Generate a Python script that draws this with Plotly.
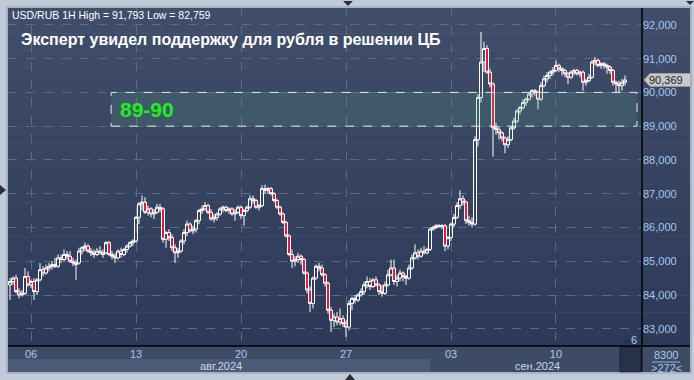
import plotly.graph_objects as go

# ---------------- data (hourly candles, index-based) ----------------
opens = [84.30,84.40,84.50,84.10,84.00,84.05,84.55,84.30,84.40,84.10,
         84.45,84.75,84.65,84.80,84.85,84.90,84.85,85.10,85.05,85.20,
         85.15,85.00,84.90,84.95,85.30,85.40,85.45,85.30,85.25,85.20,
         85.30,85.25,85.25,85.55,85.20,85.15,85.10,85.30,85.20,85.35,
         85.45,85.55,85.60,86.30,86.70,86.75,86.45,86.55,86.40,86.45,
         86.60,86.55,85.65,85.85,85.70,85.40,85.25,85.30,85.60,85.85,
         86.10,85.90,85.95,86.20,86.50,86.55,86.65,86.45,86.25,86.30,
         86.40,86.55,86.60,86.50,86.55,86.40,86.45,86.60,86.35,86.50,
         86.60,86.85,86.80,86.60,86.65,87.15,87.10,87.15,87.00,86.80,
         86.60,86.40,86.15,85.75,85.20,85.00,85.05,85.15,85.05,84.65,
         84.15,83.75,84.50,84.85,84.80,84.60,84.35,83.55,83.25,83.35,
         83.20,83.30,83.15,83.05,83.75,83.90,83.85,84.00,84.10,84.30,
         84.40,84.25,84.45,84.30,84.10,84.05,84.30,84.60,84.80,84.40,
         84.50,84.65,84.55,84.50,84.80,85.10,85.25,85.15,85.30,85.25,
         85.35,85.95,86.00,86.02,86.05,86.05,85.45,85.70,86.10,86.30,
         86.65,86.85,86.75,86.20,86.15,86.10,88.60,89.85,90.90,91.30,
         90.60,90.25,88.95,88.90,88.80,88.65,88.45,88.60,88.95,89.15,
         89.45,89.55,89.70,89.80,89.95,90.05,90.00,89.80,90.20,90.40,
         90.50,90.60,90.65,90.80,90.70,90.65,90.55,90.45,90.60,90.65,
         90.55,90.60,90.30,90.35,90.45,90.90,90.95,90.80,90.85,90.80,
         90.75,90.65,90.30,90.25,90.20,90.30]
highs = [84.50,84.55,84.60,84.20,84.15,84.80,84.70,84.45,84.50,84.50,
         84.95,84.85,84.90,84.95,85.00,85.10,85.20,85.20,85.35,85.30,
         85.30,85.10,85.05,85.40,85.45,85.55,85.50,85.40,85.35,85.40,
         85.45,85.35,85.60,85.60,85.30,85.25,85.35,85.40,85.40,85.50,
         85.60,85.65,86.35,86.75,86.95,86.90,86.65,86.60,86.55,86.70,
         86.70,86.60,85.90,85.95,85.80,85.50,85.40,85.65,85.95,86.20,
         86.15,86.05,86.25,86.55,86.65,86.75,86.70,86.55,86.40,86.45,
         86.60,86.65,86.65,86.60,86.60,86.55,86.65,86.65,86.55,86.65,
         86.95,86.95,86.85,86.70,87.25,87.27,87.20,87.20,87.05,86.85,
         86.65,86.45,86.20,85.80,85.35,85.15,85.25,85.20,85.10,84.70,
         84.25,84.55,84.90,84.95,84.90,84.65,84.40,83.65,83.45,83.50,
         83.60,83.40,83.25,83.85,83.95,84.00,84.05,84.20,84.40,84.55,
         84.50,84.50,84.55,84.35,84.30,84.40,84.75,85.05,85.05,84.60,
         84.75,84.70,84.60,84.90,85.20,85.50,85.35,85.40,85.45,85.40,
         86.00,86.05,86.10,86.10,86.10,86.10,85.75,86.15,86.40,86.75,
         87.10,86.95,86.80,86.35,86.30,88.70,89.95,91.79,91.50,91.40,
         90.70,90.30,89.10,89.00,88.85,88.70,88.70,89.00,89.25,89.50,
         89.60,89.80,89.85,90.00,90.10,90.10,90.05,90.30,90.50,90.60,
         90.65,90.75,90.95,90.85,90.75,90.70,90.60,90.65,90.70,90.70,
         90.65,90.65,90.40,90.55,90.95,91.05,91.00,90.90,90.90,90.85,
         90.80,90.70,90.35,90.35,90.40,90.50]
lows = [83.85,84.30,84.05,83.90,83.95,84.00,84.25,84.20,83.85,84.00,
        84.40,84.55,84.60,84.70,84.75,84.80,84.80,84.95,85.00,85.05,
        84.95,84.85,84.45,84.90,85.20,85.30,85.25,85.15,85.10,85.15,
        85.20,85.10,85.20,85.15,85.05,84.95,85.05,85.10,85.15,85.25,
        85.40,85.45,85.55,86.10,86.50,86.40,86.35,86.30,86.25,86.40,
        86.45,85.55,85.40,85.60,85.30,84.95,85.10,85.25,85.50,85.75,
        85.85,85.80,85.85,86.10,86.40,86.50,86.40,86.20,86.15,86.20,
        86.35,86.45,86.45,86.40,86.35,86.20,86.40,86.25,86.05,86.45,
        86.55,86.70,86.55,86.50,86.60,87.00,87.00,86.95,86.75,86.55,
        86.35,86.10,85.70,85.15,84.80,84.85,84.95,84.90,84.60,84.05,
        83.50,83.60,84.45,84.70,84.55,84.25,83.45,82.90,83.05,83.10,
        83.10,83.05,82.76,82.95,83.55,83.75,83.80,83.95,84.00,84.20,
        84.15,84.20,84.25,84.00,83.95,84.00,84.25,84.55,84.30,84.25,
        84.40,84.40,84.30,84.45,84.75,85.05,85.05,85.10,85.20,85.20,
        85.30,85.90,85.95,86.00,85.95,85.30,85.35,85.60,86.00,86.25,
        86.55,86.65,86.10,86.05,86.00,86.05,88.40,89.70,90.60,90.55,
        90.15,88.10,88.75,88.60,88.55,88.20,88.35,88.55,88.90,89.10,
        89.35,89.50,89.60,89.75,89.85,89.90,89.50,89.75,90.15,90.30,
        90.40,90.50,90.60,90.60,90.50,90.45,90.25,90.40,90.50,90.50,
        90.45,90.05,90.20,90.30,90.40,90.80,90.75,90.70,90.70,90.55,
        90.55,90.20,90.00,90.00,90.05,90.20]
closes = [84.40,84.50,84.10,84.00,84.05,84.55,84.30,84.40,84.10,84.45,
          84.75,84.65,84.80,84.85,84.90,84.85,85.10,85.05,85.20,85.15,
          85.00,84.95,84.95,85.30,85.40,85.45,85.30,85.25,85.20,85.30,
          85.25,85.20,85.55,85.20,85.15,85.10,85.30,85.20,85.35,85.45,
          85.55,85.60,86.30,86.70,86.75,86.45,86.55,86.40,86.45,86.60,
          86.55,85.65,85.85,85.70,85.40,85.25,85.30,85.60,85.85,86.10,
          85.90,85.95,86.20,86.50,86.55,86.65,86.45,86.25,86.30,86.40,
          86.55,86.60,86.50,86.55,86.40,86.45,86.60,86.35,86.50,86.60,
          86.85,86.80,86.60,86.65,87.15,87.10,87.15,87.00,86.80,86.60,
          86.40,86.15,85.75,85.20,85.00,85.05,85.15,85.05,84.65,84.15,
          83.75,84.50,84.85,84.80,84.60,84.35,83.55,83.25,83.35,83.20,
          83.30,83.15,83.05,83.75,83.90,83.85,84.00,84.10,84.30,84.40,
          84.25,84.45,84.30,84.10,84.05,84.30,84.60,84.80,84.40,84.50,
          84.65,84.55,84.50,84.80,85.10,85.25,85.15,85.30,85.25,85.35,
          85.95,86.00,86.05,86.05,86.05,85.45,85.70,86.10,86.30,86.65,
          86.85,86.75,86.20,86.15,86.10,88.60,89.85,90.90,91.30,90.60,
          90.25,88.95,88.90,88.80,88.65,88.45,88.60,88.95,89.15,89.45,
          89.55,89.70,89.80,89.95,90.05,90.00,89.80,90.20,90.40,90.50,
          90.60,90.65,90.80,90.70,90.65,90.55,90.45,90.60,90.65,90.55,
          90.60,90.30,90.35,90.45,90.90,90.95,90.80,90.85,90.80,90.75,
          90.65,90.30,90.25,90.20,90.30,90.369]

day_tick_idx = [7, 42, 77, 112, 147, 182]
day_tick_text = ["06", "13", "20", "27", "03", "10"]
price_ticks = [83, 84, 85, 86, 87, 88, 89, 90, 91, 92]
price_tick_text = ["83,000", "84,000", "85,000", "86,000", "87,000",
                   "88,000", "89,000", "90,000", "91,000", "92,000"]
month_labels = ["авг.2024", "сен.2024"]
zone_low, zone_high = 89, 90
zone_label = "89-90"
last_price_text = "90,369"
header = "USD/RUB 1H High = 91,793 Low = 82,759"
title = "Эксперт увидел поддержку для рубля в решении ЦБ"

# ---------------- geometry helpers (pixel -> paper) ----------------
W, H = 694, 380
PL, PR, PT, PB = 8, 642, 8, 346
def px(x):
    return (x - PL) / (PR - PL)
def py(y):
    return 1 - (y - PT) / (PB - PT)

FONT = "Liberation Sans, Arial, sans-serif"
idx = list(range(len(closes)))

fig = go.Figure()
fig.add_trace(go.Candlestick(
    x=idx, open=opens, high=highs, low=lows, close=closes,
    increasing=dict(line=dict(color="#ffffff", width=1), fillcolor="rgba(0,0,0,0)"),
    decreasing=dict(line=dict(color="#ffffff", width=1), fillcolor="#e8173d"),
    whiskerwidth=0, hoverinfo="skip", showlegend=False,
))

shapes = []
# gradient background for plot + right axis panel
top_c = (64, 78, 106)
bot_c = (44, 57, 88)
nb = 40
for k in range(nb):
    t = k / (nb - 1)
    c = tuple(round(top_c[j] + (bot_c[j] - top_c[j]) * t) for j in range(3))
    y0 = PT + (PB - PT) * k / nb
    y1 = PT + (PB - PT) * (k + 1) / nb + 0.5
    shapes.append(dict(type="rect", xref="paper", yref="paper", layer="below",
                       x0=px(PL), x1=px(690), y0=py(y1), y1=py(y0),
                       fillcolor="rgb(%d,%d,%d)" % c, line=dict(width=0)))
# bottom axis panel
shapes.append(dict(type="rect", xref="paper", yref="paper", layer="below",
                   x0=px(PL), x1=px(642), y0=py(372), y1=py(346),
                   fillcolor="#3e4b67", line=dict(width=0)))
shapes.append(dict(type="rect", xref="paper", yref="paper", layer="below",
                   x0=px(PL), x1=px(430), y0=py(372), y1=py(359),
                   fillcolor="#4b5a78", line=dict(width=0)))
shapes.append(dict(type="rect", xref="paper", yref="paper", layer="below",
                   x0=px(620), x1=px(641), y0=py(372), y1=py(347),
                   fillcolor="#27324a", line=dict(color="#1c2436", width=1)))
shapes.append(dict(type="rect", xref="paper", yref="paper", layer="below",
                   x0=px(643), x1=px(690), y0=py(372), y1=py(346),
                   fillcolor="#3e4b67", line=dict(width=0)))
# separator lines
shapes.append(dict(type="line", xref="paper", yref="paper", layer="above",
                   x0=px(PL), x1=px(690), y0=py(346), y1=py(346),
                   line=dict(color="#000000", width=1.5)))
shapes.append(dict(type="line", xref="paper", yref="paper", layer="above",
                   x0=px(642), x1=px(642), y0=py(372), y1=py(8),
                   line=dict(color="#000000", width=1.5)))
shapes.append(dict(type="line", xref="paper", yref="paper", layer="above",
                   x0=px(652), x1=px(680), y0=py(362), y1=py(362),
                   line=dict(color="#9fb4d4", width=1)))
# outer frame border
shapes.append(dict(type="rect", xref="paper", yref="paper", layer="below",
                   x0=px(7), x1=px(691), y0=py(373), y1=py(7),
                   fillcolor="rgba(0,0,0,0)", line=dict(color="#8f9bb0", width=1)))
# zone box
shapes.append(dict(type="rect", xref="x", yref="y", layer="above",
                   x0=33.7, x1=209, y0=zone_low, y1=zone_high,
                   fillcolor="rgba(90,160,130,0.2)",
                   line=dict(color="#e8eee8", width=1, dash="dash")))
# last price marker (arrow shaped)
lp = closes[-1]
dy = 0.19
shapes.append(dict(type="path", xref="paper", yref="y", layer="above",
                   path="M %f,%f L %f,%f L %f,%f L %f,%f L %f,%f Z" % (
                       px(644), lp, px(650), lp + dy, px(691), lp + dy,
                       px(691), lp - dy, px(650), lp - dy),
                   fillcolor="#c8c8c8", line=dict(color="#a0a0a0", width=1)))
# frame triangles
def tri(pts):
    return dict(type="path", xref="paper", yref="paper", layer="above",
                path="M " + " L ".join("%f,%f" % (px(a), py(b)) for a, b in pts) + " Z",
                fillcolor="#2a2f3a", line=dict(width=0))
shapes.append(tri([(343, 1), (353, 1), (348, 6)]))
shapes.append(tri([(345, 380), (355, 380), (350, 374)]))
shapes.append(tri([(0, 185), (0, 195), (6, 190)]))
shapes.append(tri([(686, 1), (694, 1), (690, 5)]))
shapes.append(tri([(623, 343), (631, 343), (627, 339)]))

annotations = [
    dict(text=header, xref="paper", yref="paper", x=px(10), y=py(15),
         xanchor="left", yanchor="middle", showarrow=False,
         font=dict(family=FONT, size=10.5, color="#ffffff")),
    dict(text="<b>" + title + "</b>", xref="paper", yref="paper", x=px(19), y=py(39),
         xanchor="left", yanchor="middle", showarrow=False,
         font=dict(family=FONT, size=16, color="#ffffff")),
    dict(text="<b>" + zone_label + "</b>", xref="paper", yref="y", x=px(118),
         y=(zone_low + zone_high) / 2, xanchor="left", yanchor="middle", showarrow=False,
         font=dict(family=FONT, size=21, color="#22ee22")),
    dict(text=last_price_text, xref="paper", yref="y", x=px(647), y=lp,
         xanchor="left", yanchor="middle", showarrow=False,
         font=dict(family=FONT, size=11, color="#1a1f2a")),
    dict(text=month_labels[0], xref="paper", yref="paper", x=px(221), y=py(365.5),
         xanchor="center", yanchor="middle", showarrow=False,
         font=dict(family=FONT, size=11, color="#c9d6ea")),
    dict(text=month_labels[1], xref="paper", yref="paper", x=px(537), y=py(365.5),
         xanchor="center", yanchor="middle", showarrow=False,
         font=dict(family=FONT, size=11, color="#c9d6ea")),
    dict(text="6", xref="paper", yref="paper", x=px(634), y=py(340),
         xanchor="center", yanchor="middle", showarrow=False,
         font=dict(family=FONT, size=11, color="#a9c8f0")),
    dict(text="8300", xref="paper", yref="paper", x=px(666), y=py(355),
         xanchor="center", yanchor="middle", showarrow=False,
         font=dict(family=FONT, size=11, color="#a9c8f0")),
    dict(text="&gt;272&lt;", xref="paper", yref="paper", x=px(666), y=py(368),
         xanchor="center", yanchor="middle", showarrow=False,
         font=dict(family=FONT, size=11, color="#a9c8f0")),
]

fig.update_layout(
    width=W, height=H,
    margin=dict(l=PL, r=W - PR, t=PT, b=H - PB),
    paper_bgcolor="#c0cad8",
    plot_bgcolor="rgba(0,0,0,0)",
    boxgap=0, boxgroupgap=0,
    shapes=shapes, annotations=annotations,
    showlegend=False, hovermode=False,
    xaxis=dict(range=[-0.67, 210.67], rangeslider=dict(visible=False),
               tickmode="array", tickvals=day_tick_idx, ticktext=day_tick_text,
               showgrid=True, gridcolor="#5c6b8a", griddash="dash", gridwidth=1,
               zeroline=False, showline=False, ticks="",
               tickfont=dict(family=FONT, size=11, color="#a9c8f0")),
    yaxis=dict(range=[82.49, 92.5], side="right",
               tickmode="array", tickvals=price_ticks, ticktext=price_tick_text,
               showgrid=True, gridcolor="#5c6b8a", griddash="dash", gridwidth=1,
               zeroline=False, showline=False, ticks="",
               tickfont=dict(family=FONT, size=11, color="#a9c8f0")),
)

fig.write_html("out.html", config={"displayModeBar": False, "staticPlot": True},
               post_script="document.body.style.margin='0px';"
                           "document.body.style.overflow='hidden';")
